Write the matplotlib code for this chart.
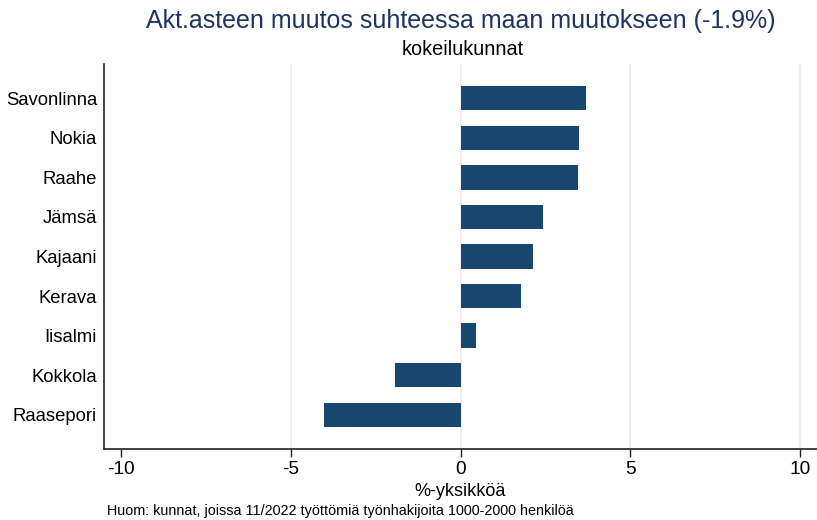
import matplotlib.pyplot as plt
import numpy as np

plt.rcParams['font.family'] = ['Liberation Sans', 'DejaVu Sans']

# data (top to bottom as shown)
kunnat = ['Savonlinna', 'Nokia', 'Raahe', 'Jämsä', 'Kajaani',
          'Kerava', 'Iisalmi', 'Kokkola', 'Raasepori']
muutos = [3.69, 3.48, 3.45, 2.42, 2.15, 1.77, 0.47, -1.92, -4.01]
xticks = [-10, -5, 0, 5, 10]
grid_x = [-5, 0, 5, 10]

title = 'Akt.asteen muutos suhteessa maan muutokseen (-1.9%)'
subtitle = 'kokeilukunnat'
xlabel = '%-yksikköä'
note = 'Huom: kunnat, joissa 11/2022 työttömiä työnhakijoita 1000-2000 henkilöä'

fig = plt.figure(figsize=(8.17, 5.2), dpi=100)
ax = fig.add_axes([104 / 817, 71 / 520, 713 / 817, 385 / 520])

ypos = np.arange(len(kunnat))[::-1]
for gx in grid_x:
    ax.axvline(gx, color='#e6eef0', linewidth=1.2, zorder=0)
ax.barh(ypos, muutos, height=0.61, color='#1a476f', zorder=2)

ax.set_xlim(-10.5, 10.5)
ax.set_ylim(-0.87, len(kunnat) - 1 + 0.87)
ax.set_xticks(xticks)
ax.set_xticklabels([str(t) for t in xticks], fontsize=13.8)
ax.set_yticks(ypos)
ax.set_yticklabels(kunnat, fontsize=13.3)
ax.tick_params(axis='y', length=0, pad=5)
ax.tick_params(axis='x', length=6, width=1, pad=3, color='#222222')

for s in ['top', 'right']:
    ax.spines[s].set_visible(False)
for s in ['left', 'bottom']:
    ax.spines[s].set_color('#222222')
    ax.spines[s].set_linewidth(1.2)

ax.set_xlabel(xlabel, fontsize=13, labelpad=3)

fig.text(461 / 817, 1 - 28 / 520, title, ha='center', va='baseline',
         fontsize=18, color='#1f3461')
fig.text(463 / 817, 1 - 55 / 520, subtitle, ha='center', va='baseline',
         fontsize=14.3, color='black')
fig.text(107 / 817, 1 - 515 / 520, note, ha='left', va='baseline',
         fontsize=10.4, color='black')

fig.savefig('out.png', dpi=100)
